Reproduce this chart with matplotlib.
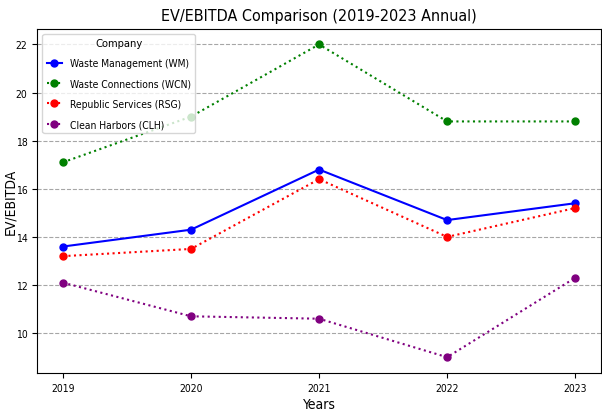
import matplotlib
matplotlib.use("Agg")
import matplotlib.pyplot as plt

years = [2019, 2020, 2021, 2022, 2023]
wm = [13.6, 14.3, 16.8, 14.7, 15.4]
wcn = [17.1, 19.0, 22.0, 18.8, 18.8]
rsg = [13.2, 13.5, 16.4, 14.0, 15.2]
clh = [12.1, 10.7, 10.6, 9.0, 12.3]

plt.rcParams["font.family"] = ["DejaVu Sans"]
plt.rcParams["font.stretch"] = "condensed"

fig, ax = plt.subplots(figsize=(6.02, 4.14), dpi=100)
ax.plot(years, wm, "-o", color="blue", label="Waste Management (WM)", markersize=5)
ax.plot(years, wcn, ":o", color="green", label="Waste Connections (WCN)", markersize=5)
ax.plot(years, rsg, ":o", color="red", label="Republic Services (RSG)", markersize=5)
ax.plot(years, clh, ":o", color="purple", label="Clean Harbors (CLH)", markersize=5)

ax.set_title("EV/EBITDA Comparison (2019-2023 Annual)", fontsize=11.5)
ax.set_xlabel("Years", fontsize=10, labelpad=3)
ax.set_ylabel("EV/EBITDA", fontsize=10)
ax.yaxis.set_label_coords(-0.036, 0.5)
ax.set_xticks(years)
ax.tick_params(labelsize=7.5)
ax.grid(axis="y", linestyle="--", color="gray", alpha=0.7)
ax.legend(title="Company", fontsize=7.4, title_fontsize=8, loc="upper left",
          handlelength=1.5, labelspacing=1.0)

fig.subplots_adjust(left=0.062, right=0.998, top=0.928, bottom=0.097)
fig.savefig("out.png", dpi=100)
plt.close(fig)
